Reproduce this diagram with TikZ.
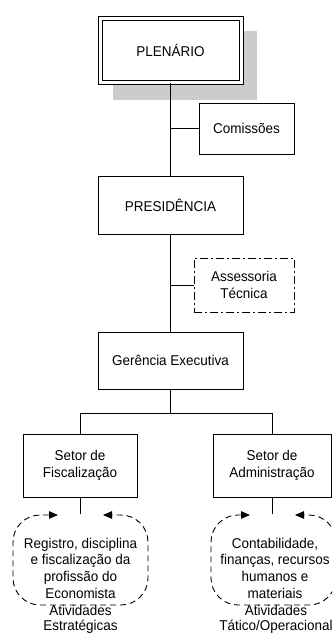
\documentclass[tikz,border=0pt]{standalone}
\usepackage{fontspec}
\setmainfont[FakeStretch=0.95]{Liberation Sans}
\usetikzlibrary{arrows.meta,calc}
\begin{document}
\begin{tikzpicture}[x=1pt,y=-1pt,
  box/.style={draw=black, line width=0.9pt, inner sep=0pt, align=center,
    font=\fontsize{14.2}{16.5}\selectfont},
  txt/.style={inner sep=0pt, align=center, font=\fontsize{14.2}{16.7}\selectfont},
  lbl/.style={inner sep=0pt, align=center, font=\fontsize{14.2}{15}\selectfont},
  conn/.style={draw=black, line width=0.9pt},
  loopline/.style={draw=black, line width=0.9pt, dash pattern=on 6pt off 4pt,
    rounded corners=27pt, {Triangle[length=9pt,width=7.5pt]}-{Triangle[length=9pt,width=7.5pt]}},
  shadowbox/.style={fill=black!20, draw=none}]
\clip (0,0) rectangle (332,634);
\fill[white] (0,0) rectangle (332,634);
% shadow of plenario
\path[shadowbox] (113,31) rectangle (257,100);
\node[box, fill=white, double, double distance=3pt, line width=1pt,
  minimum width=141pt, minimum height=64pt] (plen) at (170.5,50.5) {PLENÁRIO};
\node[box, minimum width=95pt, minimum height=51pt] (com) at (246.5,128.5) {Comissões};
\node[box, minimum width=145pt, minimum height=58pt] (pres) at (170.5,205) {PRESIDÊNCIA};
\node[box, dash pattern=on 8pt off 3pt on 2pt off 3pt, minimum width=100pt, minimum height=54pt] (ass) at (244,285) {Assessoria\\Técnica};
\node[box, minimum width=145pt, minimum height=57pt] (ger) at (170.5,360.5) {Gerência Executiva};
\node[box, minimum width=114pt, minimum height=63pt] (fis) at (80,465.5) {Setor de\\Fiscalização};
\node[box, minimum width=118pt, minimum height=63pt] (adm) at (272,465.5) {Setor de\\Administração};
% connectors
\draw[conn] (plen.south) -- (pres.north);
\draw[conn] (pres.south) -- (ger.north);
\draw[conn] (plen.south |- com.west) -- (com.west);
\draw[conn] (pres.south |- ass.west) -- (ass.west);
\coordinate (busy) at (0,413);
\draw[conn] (ger.south) -- (ger.south |- busy);
\draw[conn] (fis.north) |- (adm.north |- busy) -- (adm.north);
% activity loops
\coordinate (fisloop) at (80,514);
\coordinate (admloop) at (272,514);
\draw[conn] (fis.south) -- (fisloop);
\draw[conn] (adm.south) -- (admloop);
\draw[loopline] (58,515) -- (13,515) -- (13,605) -- (148,605) -- (148,515) -- (103,515);
\draw[loopline] (250,515) -- (211,515) -- (211,605) -- (336,605) -- (336,515) -- (295,515);
\node[txt] (fistxt) at (80.5,568) {Registro, disciplina\\e fiscalização da\\profissão do\\Economista};
\node[txt] (admtxt) at (275,568) {Contabilidade,\\finanças, recursos\\humanos e\\materiais};
\node[lbl] (fislbl) at (80.5,619.5) {Atividades\\Estratégicas};
\node[lbl] (admlbl) at (276,619.5) {Atividades\\Tático/Operacional};
\end{tikzpicture}
\end{document}
